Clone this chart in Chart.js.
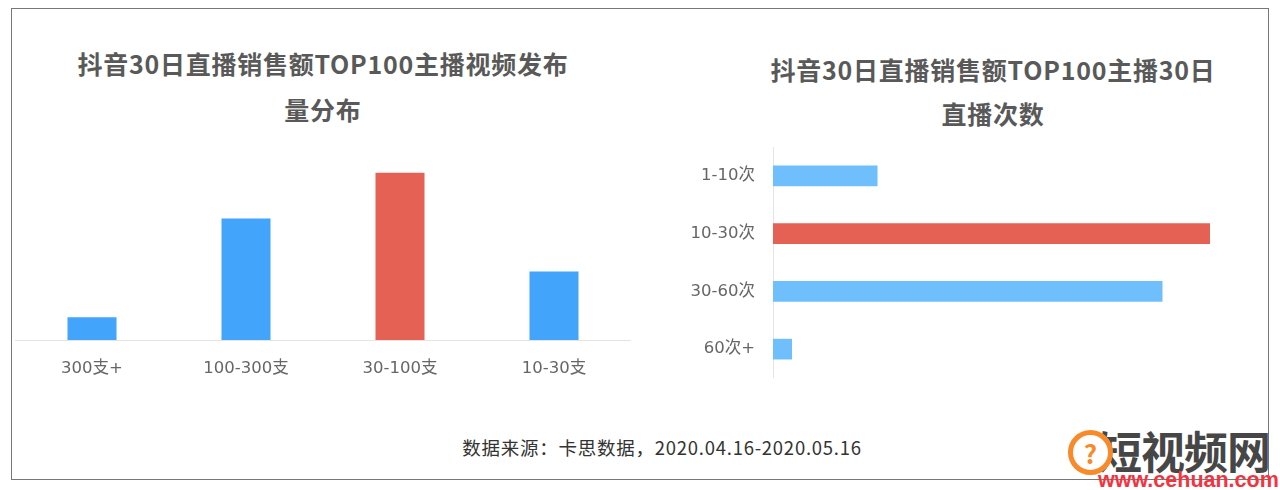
<!DOCTYPE html>
<html>
<head>
<meta charset="utf-8">
<script src="https://cdn.jsdelivr.net/npm/chart.js@4"></script>
<style>
    html, body { margin: 0; padding: 0; background: #fff; }
    body { width: 1280px; height: 490px; position: relative; overflow: hidden; font-family: "Noto Sans CJK SC", sans-serif; }
    .frame { position: absolute; left: 11px; top: 8px; width: 1256px; height: 470px; border: 1.5px solid #777; }
    canvas { position: absolute; }
    .title { position: absolute; font-weight: 700; font-size: 25px; color: #595959; text-align: center; white-space: nowrap; transform: translate(-50%, -50%); line-height: 30px; letter-spacing: .75px; }
    .source { position: absolute; left: 662px; top: 447px; transform: translate(-50%, -50%); font-size: 18.5px; color: #333; white-space: nowrap; letter-spacing: .75px; }
    .wm-ring { position: absolute; left: 1068px; top: 430px; width: 35px; height: 35px; border: 5px solid #f98a2a; border-radius: 50%; background: #fff; color: #f98a2a; font-size: 26px; font-weight: 700; line-height: 35px; text-align: center; }
    .wm-name { position: absolute; left: 1098px; top: 450px; transform: translateY(-50%); font-family: "Noto Sans CJK SC"; font-size: 44px; font-weight: 700; color: #333; letter-spacing: -1px; white-space: nowrap; opacity: .9; }
    .wm-url { position: absolute; left: 1098px; top: 480px; transform: translateY(-50%); font-family: "Liberation Sans"; font-size: 21.5px; font-weight: 700; color: #f5333f; white-space: nowrap; }
</style>
</head>
<body>
<div class="frame"></div>
<canvas id="videoChart" style="left:15px;top:150px"></canvas>
<canvas id="liveChart" style="left:680px;top:147px"></canvas>
<div class="title" style="left:323px;top:63px">抖音30日直播销售额TOP100主播视频发布</div>
<div class="title" style="left:323px;top:109px">量分布</div>
<div class="title" style="left:993px;top:69px">抖音30日直播销售额TOP100主播30日</div>
<div class="title" style="left:993px;top:113px">直播次数</div>
<div class="source">数据来源：卡思数据，2020.04.16-2020.05.16</div>
<div class="wm-name">短视频网</div>
<div class="wm-ring">?</div>
<div class="wm-url">www.cehuan.com</div>
<script>
// values, each chart sums to 100 anchors
const videoLabels = ['300支+', '100-300支', '30-100支', '10-30支'];
const videoValues = [6, 32, 44, 18];
const liveLabels = ['1-10次', '10-30次', '30-60次', '60次+'];
const liveValues = [11, 46, 41, 2];

const BLUE = '#42a4fb';
const LIGHT_BLUE = '#6fbffc';
const RED = '#e46153';
const AXIS_LINE = '#e4e4e4';
const TICK_COLOR = '#666';
const TICK_FONT = { family: '"DejaVu Sans", "Noto Sans CJK SC", sans-serif', size: 16.5 };

function colorsFor(values, base) {
    const top = Math.max(...values);
    return values.map(v => v === top ? RED : base);
}

function setSize(id, w, h) {
    const c = document.getElementById(id);
    c.width = w;
    c.height = h;
    c.style.width = w + 'px';
    c.style.height = h + 'px';
    return c;
}

new Chart(setSize('videoChart', 616, 240), {
    type: 'bar',
    data: {
        labels: videoLabels,
        datasets: [{
            data: videoValues,
            backgroundColor: colorsFor(videoValues, BLUE),
            categoryPercentage: 1,
            barPercentage: 49 / 154
        }]
    },
    options: {
        responsive: false,
        animation: false,
        devicePixelRatio: 1,
        layout: { padding: 0 },
        plugins: { legend: { display: false }, tooltip: { enabled: false } },
        scales: {
            x: {
                grid: { display: false, drawTicks: false },
                border: { color: AXIS_LINE, width: 1 },
                ticks: { color: TICK_COLOR, font: TICK_FONT, padding: 19, maxRotation: 0 },
                afterFit: (axis) => { axis.height = 50; }
            },
            y: { display: false, min: 0, max: 50 }
        }
    }
});

new Chart(setSize('liveChart', 600, 231), {
    type: 'bar',
    data: {
        labels: liveLabels,
        datasets: [{
            data: liveValues,
            backgroundColor: colorsFor(liveValues, LIGHT_BLUE),
            categoryPercentage: 1,
            barPercentage: 20.5 / 57.3
        }]
    },
    options: {
        indexAxis: 'y',
        responsive: false,
        animation: false,
        devicePixelRatio: 1,
        layout: { padding: { right: 32 } },
        plugins: { legend: { display: false }, tooltip: { enabled: false } },
        scales: {
            x: { display: false, min: 0, max: 50 },
            y: {
                grid: { display: false, drawTicks: false },
                border: { color: AXIS_LINE, width: 1 },
                ticks: { color: TICK_COLOR, font: TICK_FONT, padding: 18 },
                afterFit: (axis) => {
                    axis.width = 93;
                    // tick padding would otherwise shrink the plot height
                    axis.paddingTop = 0;
                    axis.paddingBottom = 0;
                }
            }
        }
    }
});
</script>
</body>
</html>
